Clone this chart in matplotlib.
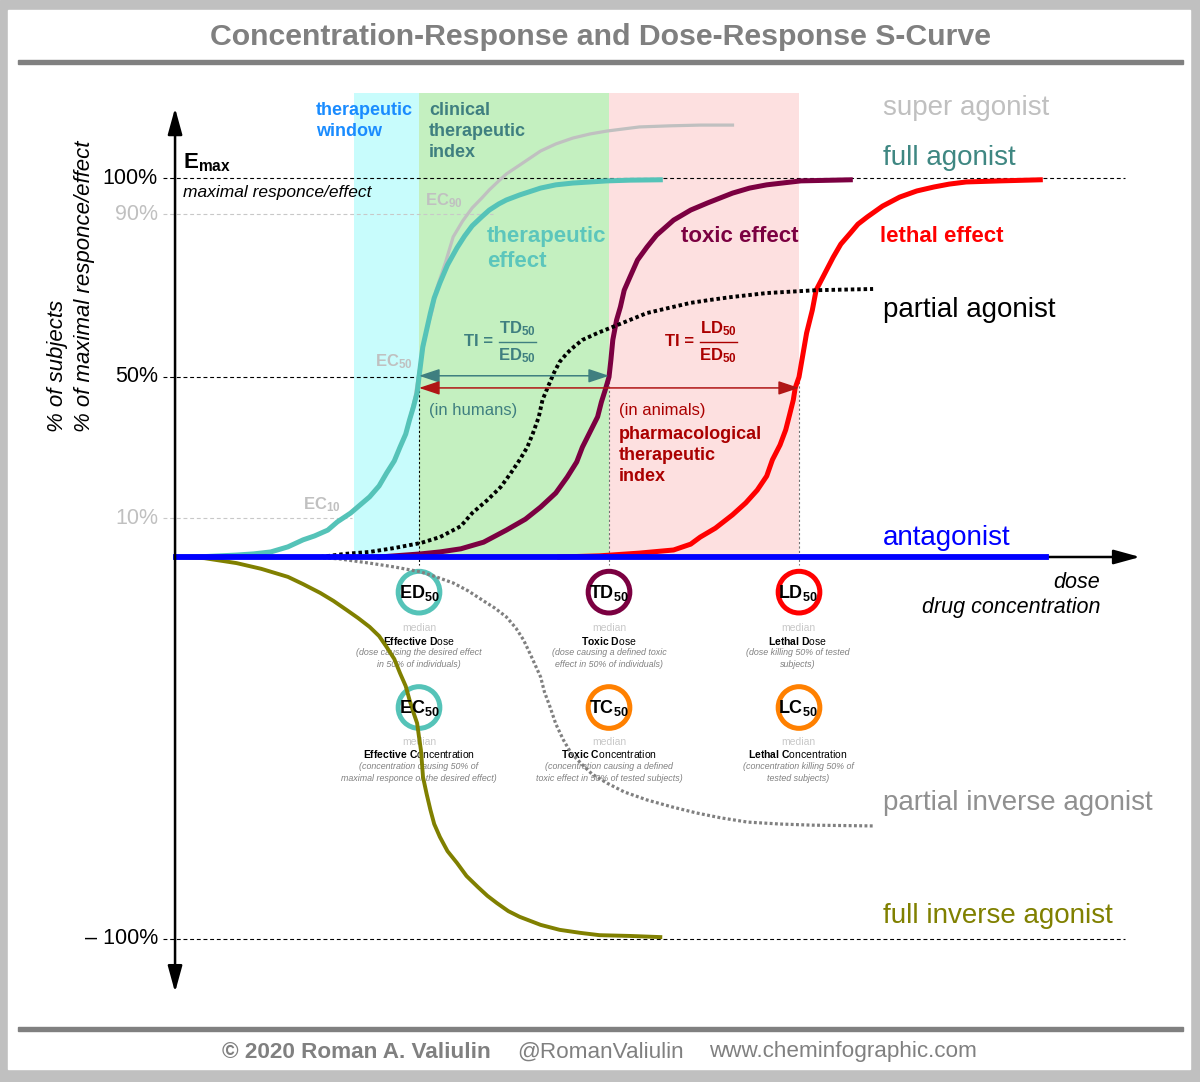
import numpy as np
import matplotlib
matplotlib.use("Agg")
import matplotlib.pyplot as plt
from matplotlib.transforms import Affine2D
from matplotlib.patches import Rectangle
from matplotlib.lines import Line2D

# ---- curves: log dose (arbitrary units) vs response in % ----
full_x = [0.72, 0.87, 1.04, 1.13, 1.22, 1.31, 1.39, 1.45, 1.52, 1.57, 1.64, 1.69,
          1.74, 1.79, 1.83, 1.87, 1.90, 1.93, 1.95, 1.97, 1.99, 2.00, 2.02, 2.06,
          2.08, 2.11, 2.15, 2.20, 2.24, 2.28, 2.33, 2.37, 2.42, 2.46, 2.53, 2.64,
          2.72, 2.81, 2.90, 2.99, 3.11, 3.27]
full_y = [0, 0.1, 0.5, 0.8, 1.3, 2.6, 4.4, 5.4, 6.9, 9.0, 11.4, 13.7,
          16.0, 19.1, 22.8, 26.2, 30.1, 33.8, 37.8, 41.4, 45.5, 50, 57.4, 65.7,
          69.4, 73.1, 77.5, 81.7, 84.6, 87.1, 89.3, 91.1, 92.8, 93.9, 95.3, 97.2,
          98.1, 98.6, 98.9, 99.2, 99.4, 99.5]

super_x = [1.22, 1.31, 1.39, 1.45, 1.52, 1.57, 1.64, 1.69, 1.74, 1.79, 1.83, 1.87,
           1.90, 1.93, 1.95, 1.98, 2.00, 2.02, 2.04, 2.07, 2.09, 2.14, 2.18, 2.23,
           2.28, 2.33, 2.37, 2.42, 2.46, 2.53, 2.64, 2.72, 2.81, 2.90, 2.99, 3.16,
           3.32, 3.48, 3.65]
super_y = [1.3, 2.6, 4.4, 5.4, 6.9, 9.0, 11.4, 13.7, 16.0, 19.1, 22.8, 26.2,
           30.1, 33.8, 37.8, 44.5, 51.2, 56.6, 61.5, 66.4, 71.3, 78.2, 84.4, 88.3,
           91.7, 94.4, 96.7, 99.2, 101.1, 103.5, 107.3, 109.2, 110.8, 111.9, 112.7, 113.8,
           114.1, 114.3, 114.3]

toxic_x = [1.79, 2.01, 2.11, 2.22, 2.34, 2.46, 2.56, 2.64, 2.72, 2.78, 2.83, 2.86,
           2.90, 2.94, 2.96, 2.98, 3.00, 3.01, 3.02, 3.04, 3.06, 3.08, 3.11, 3.15,
           3.20, 3.25, 3.34, 3.43, 3.52, 3.65, 3.74, 3.83, 4.01, 4.27]
toxic_y = [0, 0.8, 1.3, 2.1, 3.8, 6.9, 9.7, 13.1, 17.1, 21.6, 25.9, 30.1,
           34.4, 38.7, 42.9, 46.3, 50, 54.2, 59.1, 64.0, 67.2, 71.3, 74.5, 78.7,
           81.9, 84.8, 88.5, 91.1, 93.1, 95.8, 97.2, 98.1, 99.2, 99.5]

lethal_x = [2.74, 2.95, 3.16, 3.34, 3.43, 3.48, 3.56, 3.65, 3.72, 3.78, 3.83, 3.86,
            3.90, 3.93, 3.95, 3.97, 3.98, 4.00, 4.02, 4.04, 4.07, 4.09, 4.14, 4.18,
            4.22, 4.27, 4.31, 4.36, 4.44, 4.53, 4.62, 4.71, 4.79, 4.88, 5.06, 5.27]
lethal_y = [0, 0.3, 1.0, 1.8, 3.3, 5.1, 7.4, 10.9, 14.3, 17.9, 21.9, 26.5,
            30.7, 35.0, 39.2, 43.5, 46.9, 50, 55.4, 60.8, 66.4, 71.3, 75.8, 79.4,
            82.6, 85.3, 87.5, 89.3, 92.2, 94.7, 96.4, 97.5, 98.3, 98.9, 99.2, 99.5]

partial_x = [1.48, 1.61, 1.74, 1.87, 2.01, 2.11, 2.22, 2.28, 2.36, 2.43, 2.48, 2.53,
             2.57, 2.60, 2.63, 2.65, 2.68, 2.71, 2.74, 2.78, 2.82, 2.86, 2.94, 3.02,
             3.11, 3.20, 3.31, 3.43, 3.53, 3.64, 3.83, 4.09, 4.39]
partial_y = [0, 0.8, 1.3, 2.3, 3.6, 5.1, 7.9, 11.4, 15.1, 18.8, 22.5, 26.5,
             30.1, 34.1, 38.6, 43.5, 47.4, 51.0, 53.7, 55.9, 57.6, 59.1, 60.8, 62.3,
             64.0, 65.7, 66.9, 68.2, 68.9, 69.6, 70.6, 71.3, 71.6]

antag_x = [0.72, 5.30]
antag_y = [0, 0]

inv_x = [0.72, 0.87, 1.04, 1.17, 1.31, 1.39, 1.48, 1.55, 1.62, 1.68, 1.74, 1.79,
         1.83, 1.87, 1.90, 1.93, 1.95, 1.97, 1.99, 2.00, 2.01, 2.016, 2.021, 2.04,
         2.06, 2.08, 2.11, 2.15, 2.20, 2.25, 2.31, 2.36, 2.41, 2.47, 2.53, 2.64,
         2.74, 2.85, 2.95, 3.11, 3.27]
inv_y = [0, -0.3, -1.6, -3.1, -5.2, -7.1, -9.4, -11.5, -13.9, -16.0, -18.3, -20.7,
         -23.6, -26.7, -30.4, -33.8, -37.4, -40.6, -43.5, -47.1, -50.5, -54.2, -57.6, -62.0,
         -66.2, -69.9, -73.3, -77.0, -80.1, -83.5, -86.4, -88.7, -90.6, -92.7, -94.2, -96.3,
         -97.6, -98.4, -99.0, -99.2, -99.5]

pinv_x = [1.44, 1.58, 1.74, 1.87, 2.01, 2.09, 2.18, 2.26, 2.34, 2.40, 2.46, 2.51,
          2.55, 2.59, 2.64, 2.66, 2.69, 2.72, 2.76, 2.80, 2.85, 2.91, 2.99, 3.08,
          3.20, 3.33, 3.46, 3.59, 3.73, 3.90, 4.07, 4.39]
pinv_y = [0, -0.5, -1.6, -2.6, -3.9, -5.2, -6.8, -8.9, -11.5, -13.4, -15.7, -18.6,
          -21.7, -25.9, -31.4, -35.3, -39.3, -43.7, -47.9, -51.3, -53.9, -56.8, -59.2, -61.5,
          -63.6, -65.4, -67.0, -68.3, -69.4, -69.9, -70.2, -70.4]

median_x = [2.0, 3.0, 4.0]                 # ED50, TD50, LD50
zone_edges = [1.66, 2.0, 3.0, 4.0]         # window | clinical TI | toxic range
ref_levels = [100, 90, 50, 10, -100]
ref_labels = ["100%", "90%", "50%", "10%", "– 100%"]

dose_names = ["ED", "TD", "LD"]
conc_names = ["EC", "TC", "LC"]
dose_titles = [r"$\mathbf{Effective\ D}$ose", r"$\mathbf{Toxic\ D}$ose", r"$\mathbf{Lethal\ D}$ose"]
conc_titles = [r"$\mathbf{Effective\ C}$oncentration", r"$\mathbf{Toxic\ C}$oncentration",
               r"$\mathbf{Lethal\ C}$oncentration"]
dose_notes = ["(dose causing the desired effect\nin 50% of individuals)",
              "(dose causing a defined toxic\neffect in 50% of individuals)",
              "(dose killing 50% of tested\nsubjects)"]
conc_notes = ["(concentration causing 50% of\nmaximal responce or the desired effect)",
              "(concentration causing a defined\ntoxic effect in 50% of tested subjects)",
              "(concentration killing 50% of\ntested subjects)"]

plt.rcParams["font.family"] = ["Liberation Sans", "DejaVu Sans"]
plt.rcParams["mathtext.fontset"] = "custom"
plt.rcParams["mathtext.rm"] = "Liberation Sans"
plt.rcParams["mathtext.bf"] = "Liberation Sans:bold"
plt.rcParams["mathtext.it"] = "Liberation Sans:italic"

TEAL = "#55c3b8"
TEAL_D = "#3f7f80"
MAROON = "#7b0041"
DRED = "#aa0000"
ORANGE = "#ff8000"

W, H = 1200, 1082
fig = plt.figure(figsize=(W / 100, H / 100), dpi=100)
pix = Affine2D().scale(1, -1).translate(0, H)   # pixel coords, origin top-left

# frame
fig.add_artist(Rectangle((0, 0), W, H, transform=pix, color="#c0c0c0", zorder=-10))
fig.add_artist(Rectangle((8, 10), 1182, 1059, transform=pix, color="white", zorder=-9))
fig.add_artist(Rectangle((18, 60), 1165, 4, transform=pix, color="#808080", zorder=-8))
fig.add_artist(Rectangle((18, 1027), 1165, 4, transform=pix, color="#808080", zorder=-8))

ax = fig.add_axes([0, 0, 1, 1])
ax.axis("off")
ax.set_facecolor("none")

# the sketch's response axis is stretched unevenly between the marked levels
knot_v = [-140, -100, 0, 10, 50, 90, 100, 150]
knot_px = [1092, 939, 557, 518, 377, 214, 178, -7]
fwd = lambda v: -np.interp(v, knot_v, knot_px)
inv = lambda t: np.interp(-np.asarray(t), knot_px[::-1], knot_v[::-1])
ax.set_yscale("function", functions=(fwd, inv))
ax.set_xlim(-0.2053, 6.1105)
ax.set_ylim(float(inv(-H)), float(inv(0)))

yaxis_x = 0.716

# shaded zones
zone_colors = ["#c8fcfc", "#c4f0c0", "#fde0e0"]
for a, b, c in zip(zone_edges[:-1], zone_edges[1:], zone_colors):
    ax.fill_between([a, b], 0, 123, color=c, lw=0, zorder=0)

# reference levels
ref_ends = [5.716, 2.39, 2.0, 1.647, 5.716]
ref_cols = ["black", "#c8c8c8", "black", "#c8c8c8", "black"]
lab_cols = ["black", "#c0c0c0", "black", "#c0c0c0", "black"]
for lev, lab, end, lc, tc in zip(ref_levels, ref_labels, ref_ends, ref_cols, lab_cols):
    ax.plot([0.653, end], [lev, lev], color=lc, lw=0.8, ls=(0, (3.5, 2.5)), zorder=1)
    ax.text(0.626, lev, lab, ha="right", va="center", fontsize=15.5, color=tc)

# drop lines from the 50% points to the median markers
for mx, c in zip(median_x, ["black", "#707070", "#707070"]):
    ax.plot([mx, mx], [50, -2.2], color=c, lw=0.8, ls=(0, (2, 2)), zorder=1)

# axes arrows
ax.annotate("", xy=(yaxis_x, 118.9), xytext=(yaxis_x, -113.9),
            arrowprops=dict(arrowstyle="<|-|>,head_length=0.8,head_width=0.22",
                            mutation_scale=20, lw=1.8, color="black",
                            shrinkA=0, shrinkB=0), zorder=5)
ax.annotate("", xy=(5.795, 0), xytext=(yaxis_x, 0),
            arrowprops=dict(arrowstyle="-|>,head_length=0.8,head_width=0.22",
                            mutation_scale=20, lw=1.8, color="black",
                            shrinkA=0, shrinkB=0), zorder=3)

# median markers
ax.scatter(median_x, [-9.2] * 3, s=900, facecolors="none",
           edgecolors=[TEAL, MAROON, "#ff0000"], linewidths=3.6, zorder=3)
ax.scatter(median_x, [-39.4] * 3, s=900, facecolors="none",
           edgecolors=[TEAL, ORANGE, ORANGE], linewidths=3.6, zorder=3)

# curves
dots = (0, (0.9, 0.75))
ax.plot(super_x, super_y, color="#c0c0c0", lw=2.3, zorder=3.5)
ax.plot(full_x, full_y, color=TEAL, lw=3.6, zorder=4)
ax.plot(toxic_x, toxic_y, color=MAROON, lw=3.6, zorder=4)
ax.plot(lethal_x, lethal_y, color="#ff0000", lw=3.6, zorder=4)
ax.plot(partial_x, partial_y, color="black", lw=2.8, ls=dots, zorder=4)
ax.plot(inv_x, inv_y, color="#808000", lw=2.8, zorder=4)
ax.plot(pinv_x, pinv_y, color="#808080", lw=2.3, ls=dots, zorder=4)
ax.plot(antag_x, antag_y, color="#0000ff", lw=4.2, zorder=4.5)

# therapeutic index arrows
ax.annotate("", xy=(median_x[1], 50.3), xytext=(median_x[0], 50.3),
            arrowprops=dict(arrowstyle="<|-|>,head_length=0.9,head_width=0.3",
                            mutation_scale=14, lw=1.1, color=TEAL_D,
                            shrinkA=0, shrinkB=0), zorder=5)
ax.annotate("", xy=(median_x[2], 46.9), xytext=(median_x[0], 46.9),
            arrowprops=dict(arrowstyle="<|-|>,head_length=0.9,head_width=0.3",
                            mutation_scale=14, lw=1.1, color="#b01515",
                            shrinkA=0, shrinkB=0), zorder=5)


def t(x, y, s, **kw):
    kw.setdefault("ha", "left")
    kw.setdefault("va", "center")
    return ax.text(x, y, s, transform=pix, **kw)


# title and footer
t(600, 37, "Concentration-Response and Dose-Response S-Curve", ha="center",
  fontsize=21.8, fontweight="bold", color="#808080")
t(222, 1052, "© 2020 Roman A. Valiulin", fontsize=16.2, fontweight="bold", color="#808080")
t(517, 1052, "@RomanValiulin", fontsize=16.2, color="#808080")
t(709, 1052, "www.cheminfographic.com", fontsize=16.2, color="#808080")

# y axis title
t(71, 432, "% of subjects\n% of maximal responce/effect", rotation=90, ha="center",
  va="bottom", multialignment="left", fontsize=16, style="italic", linespacing=1.4)

# zone labels
t(316, 102, "therapeutic\nwindow", va="top", fontsize=13, fontweight="bold",
  color="#1a8cff", linespacing=1.3)
t(429, 102, "clinical\ntherapeutic\nindex", va="top", fontsize=13, fontweight="bold",
  color=TEAL_D, linespacing=1.3)
t(487, 226, "therapeutic\neffect", va="top", fontsize=16, fontweight="bold",
  color="#5cc6bc", linespacing=1.25)
t(681, 236, "toxic effect", fontsize=16, fontweight="bold", color=MAROON)
t(880, 236, "lethal effect", fontsize=16, fontweight="bold", color="#ff0000")

# Emax
t(183, 168, r"$\mathbf{E_{max}}$", va="baseline", fontsize=16)
t(183, 193, "maximal responce/effect", fontsize=12.5, style="italic")

# EC markers on the curve
for x, y, s in [(425, 201, "90"), (375, 362, "50"), (303, 505, "10")]:
    t(x, y, r"$\mathbf{EC_{%s}}$" % s, fontsize=12, color="#c0c0c0")

# curve names
for y, s, c in [(108, "super agonist", "#c0c0c0"), (158, "full agonist", "#3f8782"),
                (310, "partial agonist", "black"), (538, "antagonist", "#0000ff"),
                (803, "partial inverse agonist", "#909090"),
                (916, "full inverse agonist", "#808000")]:
    t(883, y, s, fontsize=20, color=c)

t(1100, 582, "dose", ha="right", fontsize=15.5, style="italic")
t(1100, 608, "drug concentration", ha="right", fontsize=15.5, style="italic")

# TI formulas
for x0, num, col in [(464, "TD", TEAL_D), (665, "LD", DRED)]:
    t(x0, 342, "TI =", fontsize=12, fontweight="bold", color=col)
    cx = x0 + 53
    t(cx, 329, r"$\mathbf{%s_{50}}$" % num, ha="center", fontsize=12, color=col)
    t(cx, 356, r"$\mathbf{ED_{50}}$", ha="center", fontsize=12, color=col)
    ax.add_line(Line2D([cx - 18, cx + 19], [342, 342], transform=pix, color=col, lw=1))

t(429, 411, "(in humans)", fontsize=12, color=TEAL_D)
t(619, 411, "(in animals)", fontsize=12, color=DRED)
t(619, 426, "pharmacological\ntherapeutic\nindex", va="top", fontsize=13,
  fontweight="bold", color=DRED, linespacing=1.3)

# median marker captions
for cx, dn, cn, dt, ct, dd, cd in zip([419, 609, 798], dose_names, conc_names,
                                      dose_titles, conc_titles, dose_notes, conc_notes):
    t(cx, 593, r"$\mathbf{%s_{50}}$" % dn, ha="center", fontsize=13, zorder=6)
    t(cx, 708, r"$\mathbf{%s_{50}}$" % cn, ha="center", fontsize=13, zorder=6)
    t(cx, 628, "median", ha="center", fontsize=7.5, color="#c8c8c8", zorder=2)
    t(cx, 641, dt, ha="center", fontsize=7.5, zorder=2)
    t(cx, 648, dd, ha="center", va="top", fontsize=6.4, style="italic",
      color="#808080", linespacing=1.45, zorder=2)
    t(cx, 742, "median", ha="center", fontsize=7.5, color="#c8c8c8", zorder=2)
    t(cx, 754, ct, ha="center", fontsize=7.5, zorder=2)
    t(cx, 762, cd, ha="center", va="top", fontsize=6.4, style="italic",
      color="#808080", linespacing=1.45, zorder=2)

fig.savefig("out.png", dpi=100)
